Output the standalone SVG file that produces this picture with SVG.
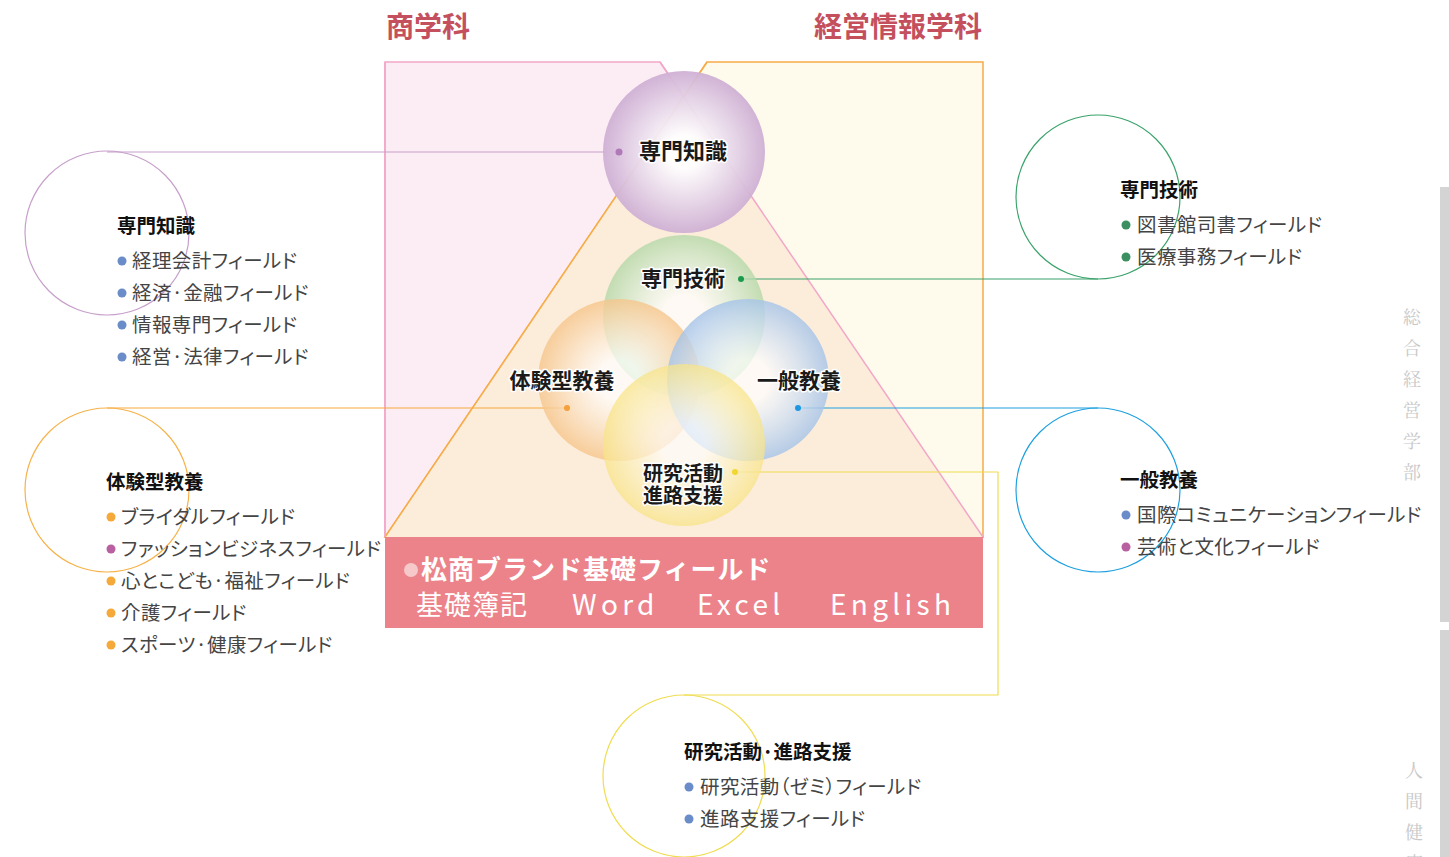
<svg xmlns="http://www.w3.org/2000/svg" width="1449" height="857" viewBox="0 0 1449 857">
<defs>
<style>
.title{font-family:"Noto Sans CJK JP","Noto Sans",sans-serif;font-weight:700;font-size:28px;fill:#c4505e}
.lbl{font-family:"Noto Sans CJK JP","Noto Sans",sans-serif;font-weight:700;font-size:21px;fill:#1a1a1a;stroke:#fff;stroke-width:3px;paint-order:stroke;stroke-linejoin:round}
.hd{font-family:"Noto Sans CJK JP","Noto Sans",sans-serif;font-weight:700;font-size:19.5px;fill:#111}
.it{font-family:"Noto Sans CJK JP","Noto Sans",sans-serif;font-size:19.5px;fill:#444;font-feature-settings:"palt";letter-spacing:0.4px}
.band1{font-family:"Noto Sans CJK JP","Noto Sans",sans-serif;font-weight:700;font-size:26px;fill:#fff;letter-spacing:1px}
.band2{font-family:"Noto Sans CJK JP","Noto Sans",sans-serif;font-size:27px;fill:#fff;letter-spacing:1px}
.band3{font-family:"Noto Sans CJK JP","Noto Sans",sans-serif;font-size:28px;fill:#fff;letter-spacing:4.3px}
.vt{font-family:"Noto Serif CJK JP","Noto Sans CJK JP",serif;font-size:18px;fill:#c8c8c8}
.ring{fill:none;stroke-width:1.2}
</style>
<radialGradient id="gP" cx="0.5" cy="0.5" r="0.5"><stop offset="0.2" stop-color="#ffffff" stop-opacity="0.95"/><stop offset="1" stop-color="#cfb0d4" stop-opacity="0.95"/></radialGradient>
<radialGradient id="gG" cx="0.5" cy="0.5" r="0.5"><stop offset="0.25" stop-color="#ffffff" stop-opacity="0.7"/><stop offset="1" stop-color="#b4d8a8" stop-opacity="0.8"/></radialGradient>
<radialGradient id="gO" cx="0.5" cy="0.5" r="0.5"><stop offset="0.25" stop-color="#ffffff" stop-opacity="0.7"/><stop offset="1" stop-color="#f6c58a" stop-opacity="0.8"/></radialGradient>
<radialGradient id="gB" cx="0.5" cy="0.5" r="0.5"><stop offset="0.25" stop-color="#ffffff" stop-opacity="0.7"/><stop offset="1" stop-color="#a6c4e8" stop-opacity="0.82"/></radialGradient>
<radialGradient id="gY" cx="0.5" cy="0.5" r="0.5"><stop offset="0.25" stop-color="#ffffff" stop-opacity="0.65"/><stop offset="1" stop-color="#f8e488" stop-opacity="0.75"/></radialGradient>
</defs>
<rect width="1449" height="857" fill="#fff"/>

<g id="titles">
<text class="title" x="386" y="37">商学科</text>
<text class="title" x="982" y="37" text-anchor="end">経営情報学科</text>
</g>

<g id="panels">
<polygon points="385,62 660,62 983,537 385,537" fill="#fcecf4" stroke="#f2a6c8" stroke-width="1.5"/>
<polygon points="707,62 983,62 983,537 385,537" fill="#fffbec" stroke="#f6ac48" stroke-width="1.5"/>
<polygon points="683.5,96.6 983,537 385,537" fill="#fcecda"/>
<line x1="660" y1="62" x2="983" y2="537" stroke="#f2a6c8" stroke-width="1.5"/>
<line x1="707" y1="62" x2="385" y2="537" stroke="#f6ac48" stroke-width="1.5"/>
<line x1="385" y1="62" x2="385" y2="537" stroke="#f2a6c8" stroke-width="1.5"/>
</g>

<g id="band">
<rect x="385" y="537" width="598" height="91" fill="#ec838b"/>
<circle cx="411" cy="570" r="7" fill="#f6c8ca"/>
<text class="band1" x="421" y="579">松商ブランド基礎フィールド</text>
<text class="band2" x="416" y="615">基礎簿記</text>
<text class="band3" x="572" y="615">Word</text>
<text class="band3" x="697" y="615">Excel</text>
<text class="band3" x="830" y="615">English</text>
</g>

<g id="connectors" fill="none" stroke-width="1.2">
<line x1="107" y1="152" x2="619" y2="152" stroke="#c79fcb"/>
<line x1="741" y1="279" x2="1098" y2="279" stroke="#3aa26a"/>
<line x1="107" y1="408" x2="567" y2="408" stroke="#f5a93a"/>
<line x1="798" y1="408" x2="1098" y2="408" stroke="#1ea0e0"/>
<polyline points="735,472 998,472 998,695 684,695" stroke="#f0dc50"/>
</g>

<g id="node-senmonchishiki-center">
<circle cx="684" cy="152" r="81" fill="url(#gP)"/>
<text class="lbl" x="683" y="159" text-anchor="middle" style="font-size:22px">専門知識</text>
<circle cx="619" cy="152" r="3.5" fill="#b07ab8"/>
</g>

<g id="venn">
<g id="node-gijutsu-center"><circle cx="684" cy="316" r="81" fill="url(#gG)"/></g>
<g id="node-taiken-center"><circle cx="619" cy="380" r="81" fill="url(#gO)"/></g>
<g id="node-ippan-center"><circle cx="748" cy="380" r="81" fill="url(#gB)"/></g>
<g id="node-kenkyu-center"><circle cx="684" cy="445" r="81" fill="url(#gY)"/></g>
<text class="lbl" x="683" y="286" text-anchor="middle">専門技術</text>
<text class="lbl" x="562" y="388" text-anchor="middle">体験型教養</text>
<text class="lbl" x="799" y="388" text-anchor="middle">一般教養</text>
<text class="lbl" x="683" y="481" text-anchor="middle" style="font-size:20px">研究活動</text>
<text class="lbl" x="683" y="503" text-anchor="middle" style="font-size:20px">進路支援</text>
<circle cx="741" cy="279" r="3" fill="#1a9a4a"/>
<circle cx="567" cy="408" r="3" fill="#f5a03a"/>
<circle cx="798" cy="408" r="3" fill="#1e96e0"/>
<circle cx="735" cy="472" r="3" fill="#f0d830"/>
</g>

<g id="node-senmonchishiki">
<circle class="ring" cx="107" cy="233" r="82" stroke="#c79fcb"/>
<text class="hd" x="117" y="233">専門知識</text>
<circle cx="122" cy="261" r="4.5" fill="#6a8cc8"/><text class="it" x="132" y="268">経理会計フィールド</text>
<circle cx="122" cy="293" r="4.5" fill="#6a8cc8"/><text class="it" x="132" y="300">経済·金融フィールド</text>
<circle cx="122" cy="325" r="4.5" fill="#6a8cc8"/><text class="it" x="132" y="332">情報専門フィールド</text>
<circle cx="122" cy="357" r="4.5" fill="#6a8cc8"/><text class="it" x="132" y="364">経営·法律フィールド</text>
</g>

<g id="node-taiken">
<circle class="ring" cx="107" cy="490" r="82" stroke="#f7b24a"/>
<text class="hd" x="106" y="489">体験型教養</text>
<circle cx="111" cy="517" r="4.5" fill="#f5a93a"/><text class="it" x="121" y="524">ブライダルフィールド</text>
<circle cx="111" cy="549" r="4.5" fill="#b860a0"/><text class="it" x="121" y="556">ファッションビジネスフィールド</text>
<circle cx="111" cy="581" r="4.5" fill="#f5a93a"/><text class="it" x="121" y="588">心とこども·福祉フィールド</text>
<circle cx="111" cy="613" r="4.5" fill="#f5a93a"/><text class="it" x="121" y="620">介護フィールド</text>
<circle cx="111" cy="645" r="4.5" fill="#f5a93a"/><text class="it" x="121" y="652">スポーツ·健康フィールド</text>
</g>

<g id="node-gijutsu">
<circle class="ring" cx="1098" cy="197" r="82" stroke="#3aa26a"/>
<text class="hd" x="1120" y="197">専門技術</text>
<circle cx="1126" cy="225" r="4.5" fill="#3a9060"/><text class="it" x="1137" y="232">図書館司書フィールド</text>
<circle cx="1126" cy="257" r="4.5" fill="#3a9060"/><text class="it" x="1137" y="264">医療事務フィールド</text>
</g>

<g id="node-ippan">
<circle class="ring" cx="1098" cy="490" r="82" stroke="#1ea0e0"/>
<text class="hd" x="1120" y="487">一般教養</text>
<circle cx="1126" cy="515" r="4.5" fill="#6a8cc8"/><text class="it" x="1137" y="522">国際コミュニケーションフィールド</text>
<circle cx="1126" cy="547" r="4.5" fill="#b860a0"/><text class="it" x="1137" y="554">芸術と文化フィールド</text>
</g>

<g id="node-kenkyu">
<circle class="ring" cx="684" cy="776" r="81" stroke="#f0dc50"/>
<text class="hd" x="684" y="759">研究活動·進路支援</text>
<circle cx="689" cy="787" r="4.5" fill="#6a8cc8"/><text class="it" x="700" y="794">研究活動（ゼミ）フィールド</text>
<circle cx="689" cy="819" r="4.5" fill="#6a8cc8"/><text class="it" x="700" y="826">進路支援フィールド</text>
</g>

<g id="sidebar">
<rect x="1440" y="187" width="9" height="435" fill="#d4d4d4"/>
<rect x="1440" y="630" width="9" height="227" fill="#d4d4d4"/>
<text class="vt" x="1412" y="324" text-anchor="middle">総</text>
<text class="vt" x="1412" y="355" text-anchor="middle">合</text>
<text class="vt" x="1412" y="386" text-anchor="middle">経</text>
<text class="vt" x="1412" y="417" text-anchor="middle">営</text>
<text class="vt" x="1412" y="448" text-anchor="middle">学</text>
<text class="vt" x="1412" y="479" text-anchor="middle">部</text>
<text class="vt" x="1414" y="777" text-anchor="middle">人</text>
<text class="vt" x="1414" y="808" text-anchor="middle">間</text>
<text class="vt" x="1414" y="839" text-anchor="middle">健</text>
<text class="vt" x="1414" y="870" text-anchor="middle">康</text>
</g>
</svg>
